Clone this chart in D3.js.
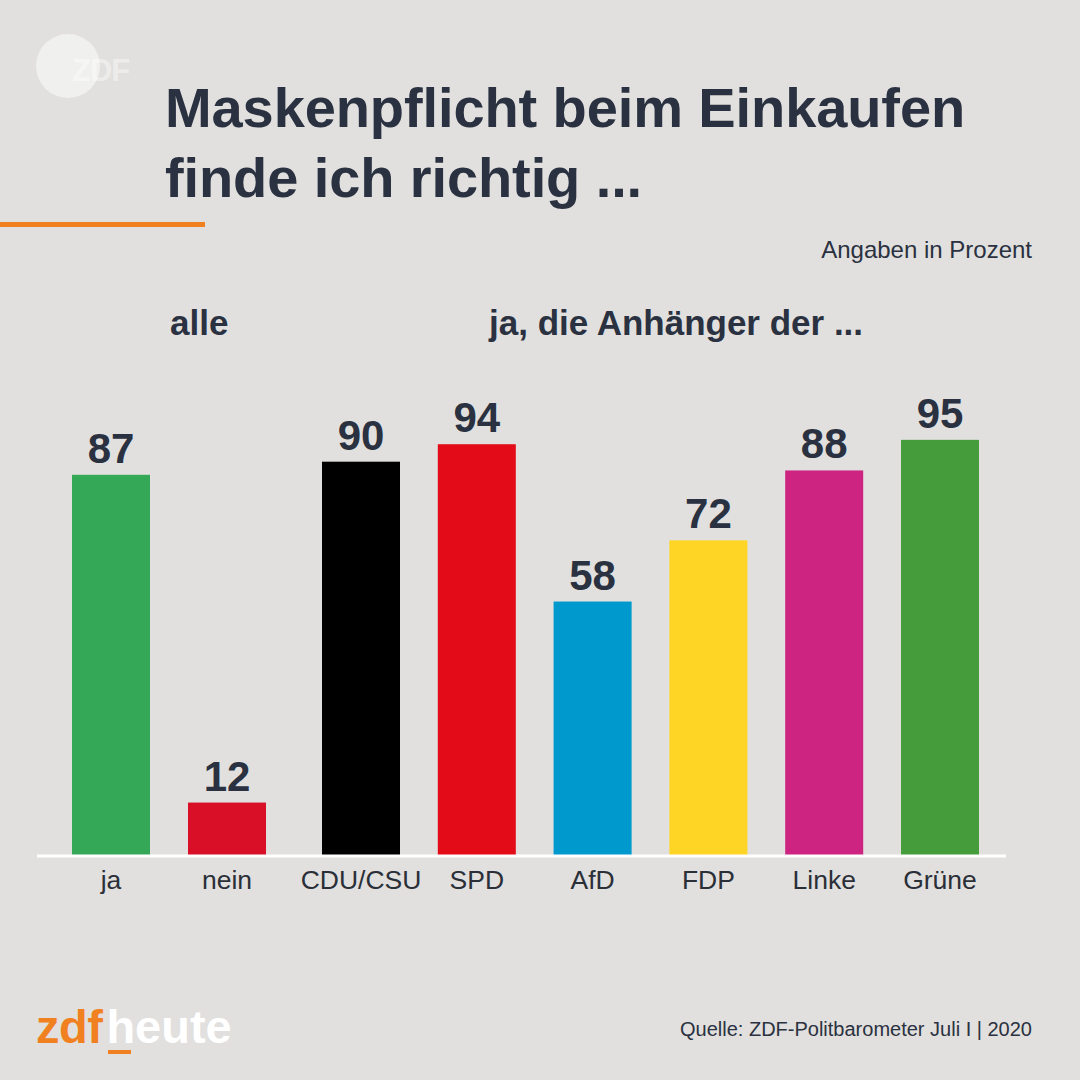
<!DOCTYPE html>
<html>
<head>
<meta charset="utf-8">
<script src="https://cdn.jsdelivr.net/npm/d3@7"></script>
<style>
  html, body { margin: 0; padding: 0; background: #e1e0de; }
  svg { display: block; }
  text { font-family: "Liberation Sans", Arial, Helvetica, sans-serif; }
</style>
</head>
<body>
<svg id="chart" width="1080" height="1080"></svg>
<script>
// ---- data ----
const groupAllCategories = ["ja", "nein"];
const groupAllValues = [87, 12];
const groupAllColors = ["#34a857", "#d90f27"];

const partyCategories = ["CDU/CSU", "SPD", "AfD", "FDP", "Linke", "Grüne"];
const partyValues = [90, 94, 58, 72, 88, 95];
const partyColors = ["#000000", "#e30b18", "#0099cd", "#fed524", "#cd2381", "#449c3b"];

const titleLines = ["Maskenpflicht beim Einkaufen", "finde ich richtig ..."];
const unitLabel = "Angaben in Prozent";
const groupHeaders = ["alle", "ja, die Anhänger der ..."];
const sourceLabel = "Quelle: ZDF-Politbarometer Juli I | 2020";

// ---- setup ----
const svg = d3.select("#chart");
const navy = "#2a3140";
const bg = "#e1e0de";
svg.append("rect").attr("width", 1080).attr("height", 1080).attr("fill", bg);

// ZDF watermark
const wm = svg.append("g");
wm.append("circle").attr("cx", 68).attr("cy", 66).attr("r", 32).attr("fill", "#ffffff").attr("opacity", 0.5);
wm.append("text").attr("x", 72).attr("y", 81).attr("font-size", 31).attr("font-weight", "bold")
  .attr("fill", "#ffffff").attr("opacity", 0.4).attr("letter-spacing", -1).text("ZDF");

// Title
svg.append("g").selectAll("text").data(titleLines).join("text")
  .attr("x", 165).attr("y", (d, i) => 127 + i * 70)
  .attr("font-size", 56).attr("font-weight", "bold").attr("fill", navy)
  .attr("letter-spacing", -0.1)
  .text(d => d);

// orange rule
svg.append("rect").attr("x", 0).attr("y", 222).attr("width", 205).attr("height", 5).attr("fill", "#f08020");

// unit label
svg.append("text").attr("x", 1032).attr("y", 258).attr("text-anchor", "end")
  .attr("font-size", 24).attr("fill", navy).text(unitLabel);

// group headers
svg.append("text").attr("x", 170).attr("y", 335).attr("font-size", 35).attr("font-weight", "bold")
  .attr("fill", navy).text(groupHeaders[0]);
svg.append("text").attr("x", 489).attr("y", 335).attr("font-size", 35).attr("font-weight", "bold")
  .attr("fill", navy).text(groupHeaders[1]);

// ---- scales ----
const baseline = 855;
const y = d3.scaleLinear().domain([0, 100]).range([baseline, 418]);
const barW = 78;
const xAll = d3.scalePoint().domain(groupAllCategories).range([111, 227]);
const xParty = d3.scalePoint().domain(partyCategories).range([361, 940]);

const bars = [
  ...groupAllCategories.map((c, i) => ({ cat: c, v: groupAllValues[i], color: groupAllColors[i], cx: xAll(c) })),
  ...partyCategories.map((c, i) => ({ cat: c, v: partyValues[i], color: partyColors[i], cx: xParty(c) }))
];

const g = svg.append("g");
g.selectAll("rect.bar").data(bars).join("rect").attr("class", "bar")
  .attr("x", d => d.cx - barW / 2).attr("width", barW)
  .attr("y", d => y(d.v)).attr("height", d => y(0) - y(d.v))
  .attr("fill", d => d.color);

g.selectAll("text.val").data(bars).join("text").attr("class", "val")
  .attr("x", d => d.cx).attr("y", d => y(d.v) - 12)
  .attr("text-anchor", "middle").attr("font-size", 42).attr("font-weight", "bold")
  .attr("fill", navy).text(d => d.v);

// baseline
svg.append("line").attr("x1", 37).attr("x2", 1006).attr("y1", baseline + 1).attr("y2", baseline + 1)
  .attr("stroke", "#ffffff").attr("stroke-width", 3);

// category labels
g.selectAll("text.cat").data(bars).join("text").attr("class", "cat")
  .attr("x", d => d.cx).attr("y", 889)
  .attr("text-anchor", "middle").attr("font-size", 26.5)
  .attr("fill", "#2b2f38").text(d => d.cat);

// footer logo
const logo = svg.append("text").attr("x", 36).attr("y", 1043).attr("font-size", 47).attr("font-weight", "bold");
logo.append("tspan").attr("fill", "#f08020").attr("letter-spacing", -0.5).text("zdf");
logo.append("tspan").attr("fill", "#ffffff").attr("dx", 4).text("heute");
svg.append("rect").attr("x", 108).attr("y", 1050).attr("width", 23).attr("height", 4).attr("fill", "#f08020");

// source
svg.append("text").attr("x", 1032).attr("y", 1036).attr("text-anchor", "end")
  .attr("font-size", 20).attr("fill", navy).text(sourceLabel);
</script>
</body>
</html>
